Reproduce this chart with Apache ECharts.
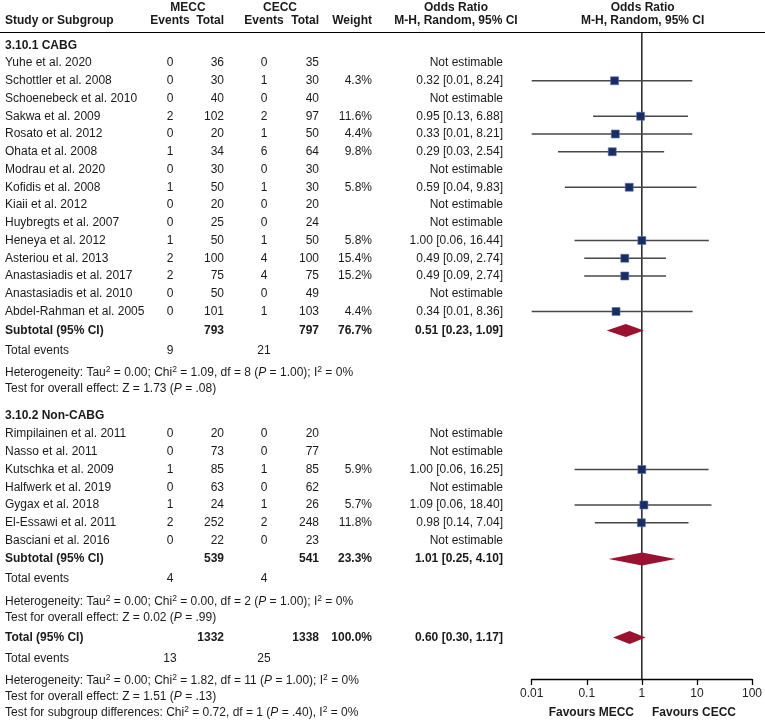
<!DOCTYPE html>
<html><head><meta charset="utf-8">
<script src="https://cdn.jsdelivr.net/npm/echarts@6/dist/echarts.min.js"></script>
<style>html,body{margin:0;padding:0;background:#fff}#c{width:765px;height:720px}</style>
</head><body><div id="c"></div>
<script>
// ---------------- DATA ----------------
const cabgStudies = ["Yuhe et al. 2020","Schottler et al. 2008","Schoenebeck et al. 2010","Sakwa et al. 2009","Rosato et al. 2012","Ohata et al. 2008","Modrau et al. 2020","Kofidis et al. 2008","Kiaii et al. 2012","Huybregts et al. 2007","Heneya et al. 2012","Asteriou et al. 2013","Anastasiadis et al. 2017","Anastasiadis et al. 2010","Abdel-Rahman et al. 2005"];
const cabgMeccEvents = [0,0,0,2,0,1,0,1,0,0,1,2,2,0,0];
const cabgMeccTotal  = [36,30,40,102,20,34,30,50,20,25,50,100,75,50,101];
const cabgCeccEvents = [0,1,0,2,1,6,0,1,0,0,1,4,4,0,1];
const cabgCeccTotal  = [35,30,40,97,50,64,30,30,20,24,50,100,75,49,103];
const cabgWeight = [null,"4.3%",null,"11.6%","4.4%","9.8%",null,"5.8%",null,null,"5.8%","15.4%","15.2%",null,"4.4%"];
const cabgOR = [null,0.32,null,0.95,0.33,0.29,null,0.59,null,null,1.00,0.49,0.49,null,0.34];
const cabgLo = [null,0.01,null,0.13,0.01,0.03,null,0.04,null,null,0.06,0.09,0.09,null,0.01];
const cabgHi = [null,8.24,null,6.88,8.21,2.54,null,9.83,null,null,16.44,2.74,2.74,null,8.36];

const nonStudies = ["Rimpilainen et al. 2011","Nasso et al. 2011","Kutschka et al. 2009","Halfwerk et al. 2019","Gygax et al. 2018","El-Essawi et al. 2011","Basciani et al. 2016"];
const nonMeccEvents = [0,0,1,0,1,2,0];
const nonMeccTotal  = [20,73,85,63,24,252,22];
const nonCeccEvents = [0,0,1,0,1,2,0];
const nonCeccTotal  = [20,77,85,62,26,248,23];
const nonWeight = [null,null,"5.9%",null,"5.7%","11.8%",null];
const nonOR = [null,null,1.00,null,1.09,0.98,null];
const nonLo = [null,null,0.06,null,0.06,0.14,null];
const nonHi = [null,null,16.25,null,18.40,7.04,null];

// summaries: [MECC total, CECC total, weight, OR, lo, hi, MECC events, CECC events]
const cabgSubtotal = [793,797,"76.7%",0.51,0.23,1.09,9,21];
const nonSubtotal  = [539,541,"23.3%",1.01,0.25,4.10,4,4];
const overallTotal = [1332,1338,"100.0%",0.60,0.30,1.17,13,25];

const cabgHet  = "Heterogeneity: Tau{s|2} = 0.00; Chi{s|2} = 1.09, df = 8 ({i|P} = 1.00); I{s|2} = 0%";
const cabgTest = "Test for overall effect: Z = 1.73 ({i|P} = .08)";
const nonHet   = "Heterogeneity: Tau{s|2} = 0.00; Chi{s|2} = 0.00, df = 2 ({i|P} = 1.00); I{s|2} = 0%";
const nonTest  = "Test for overall effect: Z = 0.02 ({i|P} = .99)";
const totHet   = "Heterogeneity: Tau{s|2} = 0.00; Chi{s|2} = 1.82, df = 11 ({i|P} = 1.00); I{s|2} = 0%";
const totTest  = "Test for overall effect: Z = 1.51 ({i|P} = .13)";
const subTest  = "Test for subgroup differences: Chi{s|2} = 0.72, df = 1 ({i|P} = .40), I{s|2} = 0%";

const tickLabels = ["0.01","0.1","1","10","100"];

// ---------------- LAYOUT ----------------
const FONT = '"Liberation Sans", Arial, Helvetica, sans-serif';
const FS = 12, FSB = 12;
const GAP = {heading:13, firstStudy:17.5, firstStudy2:18, study:17.75, subtotal:19, subtotal2:18.5, events:20, het:22.5, test:16, heading2:27, total:20, totEvents:21, subtest:16};
const rows = [];
let yy = 0;
function add(kind, gap, obj){ yy += gap; rows.push(Object.assign({kind, y:yy}, obj||{})); }
function fmt(v){ return v.toFixed(2); }
function addGroup(title, names, me, mt, ce, ct, w, or, lo, hi, sub, het, test, first){
  add('heading', first ? GAP.heading : GAP.heading2, {text:title});
  names.forEach((n,i)=>{
    add('study', i===0?(first?GAP.firstStudy:GAP.firstStudy2):GAP.study, {name:n, me:me[i], mt:mt[i], ce:ce[i], ct:ct[i], w:w[i], or:or[i], lo:lo[i], hi:hi[i]});
  });
  add('summary', first?GAP.subtotal:GAP.subtotal2, {name:'Subtotal (95% CI)', s:sub});
  add('events', GAP.events, {me:sub[6], ce:sub[7]});
  add('note', GAP.het, {text:het});
  add('note', GAP.test, {text:test});
}
addGroup('3.10.1 CABG', cabgStudies, cabgMeccEvents, cabgMeccTotal, cabgCeccEvents, cabgCeccTotal, cabgWeight, cabgOR, cabgLo, cabgHi, cabgSubtotal, cabgHet, cabgTest, true);
addGroup('3.10.2 Non-CABG', nonStudies, nonMeccEvents, nonMeccTotal, nonCeccEvents, nonCeccTotal, nonWeight, nonOR, nonLo, nonHi, nonSubtotal, nonHet, nonTest, false);
add('summary', GAP.total, {name:'Total (95% CI)', s:overallTotal});
add('events', GAP.totEvents, {me:overallTotal[6], ce:overallTotal[7]});
add('note', GAP.het, {text:totHet});
add('note', GAP.test, {text:totTest});
add('note', GAP.subtest, {text:subTest});

const GRID_TOP = 32.5, GRID_BOTTOM_Y = 679;
const Y_MAX = GRID_BOTTOM_Y - GRID_TOP;

const studyData = rows.filter(r=>r.kind==='study' && r.or!=null).map(r=>[r.lo, r.or, r.hi, r.y]);
const diamondData = rows.filter(r=>r.kind==='summary').map(r=>[r.s[4], r.s[3], r.s[5], r.y]);

const chart = echarts.init(document.getElementById('c'), null, {renderer:'canvas'});

const option = {
  animation:false,
  backgroundColor:'#fff',
  grid:{left:531.7, right:10, top:GRID_TOP, bottom:720-GRID_BOTTOM_Y, containLabel:false},
  xAxis:{type:'log', logBase:10, min:0.01, max:100,
    axisLine:{show:true, onZero:false, lineStyle:{color:'#000', width:1.3}},
    axisTick:{show:true, length:6, inside:false, lineStyle:{color:'#000', width:1.3}},
    minorTick:{show:false},
    splitLine:{show:false},
    axisLabel:{fontFamily:FONT, fontSize:FS, color:'#222', margin:9,
      formatter:(v)=>{ const k=Math.round(Math.log10(v))+2; return tickLabels[k]; }}
  },
  yAxis:{type:'value', inverse:true, min:0, max:Y_MAX, show:false},
  series:[
    {type:'line', data:[[1,0],[1,Y_MAX]], symbol:'none', lineStyle:{color:'#000', width:1.3}, silent:true, z:1},
    {type:'custom', z:3, data:studyData,
      renderItem:(params, api)=>{
        const a = api.coord([api.value(0), api.value(3)]);
        const m = api.coord([api.value(1), api.value(3)]);
        const b = api.coord([api.value(2), api.value(3)]);
        const s = 8;
        return {type:'group', children:[
          {type:'line', shape:{x1:a[0], y1:a[1], x2:b[0], y2:b[1]}, style:{stroke:'#474747', lineWidth:1.4}},
          {type:'rect', shape:{x:m[0]-s/2, y:m[1]-s/2, width:s, height:s}, style:{fill:'#182d66', stroke:'#5f73a3', lineWidth:0.6}}
        ]};
      }},
    {type:'custom', z:4, data:diamondData,
      renderItem:(params, api)=>{
        const a = api.coord([api.value(0), api.value(3)]);
        const m = api.coord([api.value(1), api.value(3)]);
        const b = api.coord([api.value(2), api.value(3)]);
        const h = 6.5;
        return {type:'polygon', shape:{points:[[a[0],a[1]],[m[0],m[1]-h],[b[0],b[1]],[m[0],m[1]+h]]}, style:{fill:'#9b1230'}};
      }}
  ]
};
chart.setOption(option);

// ---------------- TEXT TABLE ----------------
const COL = {name:5, meEv:170, meTot:224, ceEv:264, ceTot:319, w:372, or:503};
const g = [];
function T(x, y, text, align, bold, extra){
  g.push({type:'text', x:x, y:y, silent:true, z:10,
    style:Object.assign({text:String(text), fontFamily:FONT, fontSize:bold?FSB:FS, fontWeight:bold?'bold':'normal', fill:'#1a1a1a',
      align:align||'left', verticalAlign:'middle'}, extra||{})});
}
const richNote = {rich:{
  i:{fontFamily:FONT, fontSize:FS, fontStyle:'italic', fill:'#1a1a1a', lineHeight:15},
  s:{fontFamily:FONT, fontSize:8.5, fill:'#1a1a1a', verticalAlign:'top', lineHeight:10}
}, lineHeight:15};
function py(v){ return chart.convertToPixel({yAxisIndex:0}, v); }
// header
T(188, 8, 'MECC', 'center', true);
T(280, 8, 'CECC', 'center', true);
T(COL.name, 21, 'Study or Subgroup', 'left', true);
T(COL.meEv, 21, 'Events', 'center', true);
T(COL.meTot, 21, 'Total', 'right', true);
T(COL.ceEv, 21, 'Events', 'center', true);
T(COL.ceTot, 21, 'Total', 'right', true);
T(COL.w, 21, 'Weight', 'right', true);
T(456, 8, 'Odds Ratio', 'center', true);
T(456, 21, 'M-H, Random, 95% CI', 'center', true);
T(642.7, 8, 'Odds Ratio', 'center', true);
T(642.7, 21, 'M-H, Random, 95% CI', 'center', true);
g.push({type:'line', silent:true, shape:{x1:0, y1:GRID_TOP, x2:765, y2:GRID_TOP}, style:{stroke:'#000', lineWidth:1.2}});

rows.forEach(r=>{
  const y = py(r.y);
  if (r.kind==='heading') T(COL.name, y, r.text, 'left', true);
  else if (r.kind==='study'){
    T(COL.name, y, r.name, 'left');
    T(COL.meEv, y, r.me, 'center');
    T(COL.meTot, y, r.mt, 'right');
    T(COL.ceEv, y, r.ce, 'center');
    T(COL.ceTot, y, r.ct, 'right');
    if (r.w) T(COL.w, y, r.w, 'right');
    T(COL.or, y, r.or==null ? 'Not estimable' : `${fmt(r.or)} [${fmt(r.lo)}, ${fmt(r.hi)}]`, 'right');
  } else if (r.kind==='summary'){
    T(COL.name, y, r.name, 'left', true);
    T(COL.meTot, y, r.s[0], 'right', true);
    T(COL.ceTot, y, r.s[1], 'right', true);
    T(COL.w, y, r.s[2], 'right', true);
    T(COL.or, y, `${fmt(r.s[3])} [${fmt(r.s[4])}, ${fmt(r.s[5])}]`, 'right', true);
  } else if (r.kind==='events'){
    T(COL.name, y, 'Total events', 'left');
    T(COL.meEv, y, r.me, 'center');
    T(COL.ceEv, y, r.ce, 'center');
  } else if (r.kind==='note'){
    T(COL.name, y, r.text, 'left', false, richNote);
  }
});
T(634, 713, 'Favours MECC', 'right', true);
T(652, 713, 'Favours CECC', 'left', true);

chart.setOption({graphic:{elements:g}});
</script></body></html>
